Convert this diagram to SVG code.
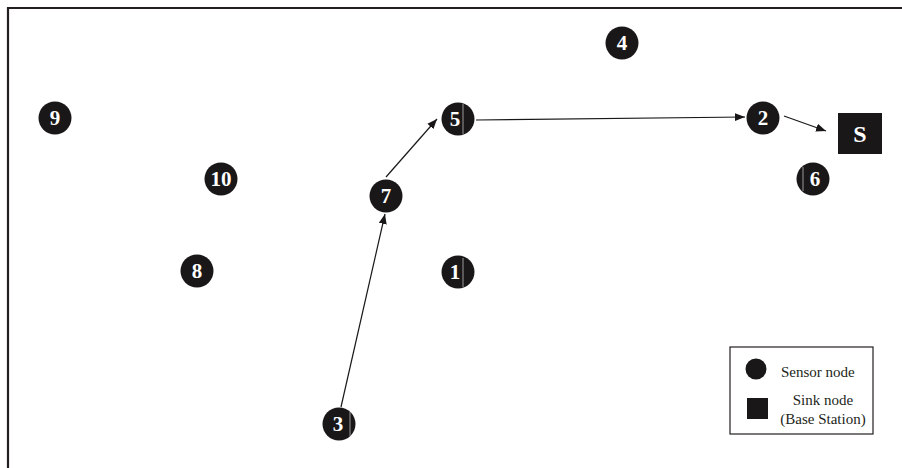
<svg xmlns="http://www.w3.org/2000/svg" width="902" height="468" viewBox="0 0 902 468">
<style>
.n circle{fill:#1a1718}
.n text{fill:#fff;font-family:"Liberation Serif",serif;font-weight:bold;font-size:21px;text-anchor:middle}
.c line{stroke:#1a1718;stroke-width:1.2;marker-end:url(#ah)}
.lg{font-family:"Liberation Serif",serif;font-size:15px;fill:#231f20}
.art{stroke:#bbb;stroke-width:0.8}
</style>
<defs>
<marker id="ah" viewBox="0 0 10 10" refX="10" refY="5" markerWidth="10" markerHeight="10" markerUnits="userSpaceOnUse" orient="auto">
<path d="M0,1 L10,5 L0,9 Z" fill="#1a1718"/>
</marker>
</defs>
<rect width="902" height="468" fill="#fff"/>
<path d="M8,468 V8 H902" fill="none" stroke="#231f20" stroke-width="2.2"/>
<g id="connectors" class="c">
<line x1="341" y1="407" x2="385" y2="214"/>
<line x1="386" y1="177" x2="437" y2="119"/>
<line x1="476" y1="120" x2="745" y2="117"/>
<line x1="784" y1="116" x2="826" y2="131"/>
</g>
<g id="node1" class="n"><circle cx="458" cy="272" r="16.5"/><line class="art" x1="463" y1="258" x2="463" y2="287"/><text x="455" y="279">1</text></g>
<g id="node2" class="n"><circle cx="763" cy="118" r="16.5"/><text x="763" y="125">2</text></g>
<g id="node3" class="n"><circle cx="339" cy="424" r="16.5"/><line class="art" x1="350" y1="412" x2="350" y2="436"/><text x="338" y="431">3</text></g>
<g id="node4" class="n"><circle cx="622" cy="43" r="16.5"/><text x="622" y="50">4</text></g>
<g id="node5" class="n"><circle cx="458" cy="119" r="16.5"/><line class="art" x1="463" y1="104" x2="463" y2="134"/><text x="455" y="126">5</text></g>
<g id="node6" class="n"><circle cx="813" cy="179" r="16.5"/><line class="art" x1="803" y1="167" x2="803" y2="191"/><text x="815" y="186">6</text></g>
<g id="node7" class="n"><circle cx="386" cy="196" r="16.5"/><text x="386" y="203">7</text></g>
<g id="node8" class="n"><circle cx="197" cy="271" r="16.5"/><text x="197" y="278">8</text></g>
<g id="node9" class="n"><circle cx="55" cy="118" r="16.5"/><text x="55" y="125">9</text></g>
<g id="node10" class="n"><circle cx="221" cy="179" r="16.5"/><text x="221" y="186">10</text></g>
<g id="sink" class="n"><rect x="838" y="113" width="44" height="41" fill="#1a1718"/><text x="860" y="142" style="font-size:24px">S</text></g>
<g id="legend">
<rect x="730" y="347" width="143" height="87" fill="#fff" stroke="#231f20" stroke-width="1.2"/>
<circle cx="756" cy="369" r="10.5" fill="#1a1718"/>
<text class="lg" x="781" y="377">Sensor node</text>
<rect x="747" y="398" width="21" height="21" fill="#1a1718"/>
<text class="lg" x="823" y="405" text-anchor="middle">Sink node</text>
<text class="lg" x="823" y="424" text-anchor="middle">(Base Station)</text>
</g>
</svg>
